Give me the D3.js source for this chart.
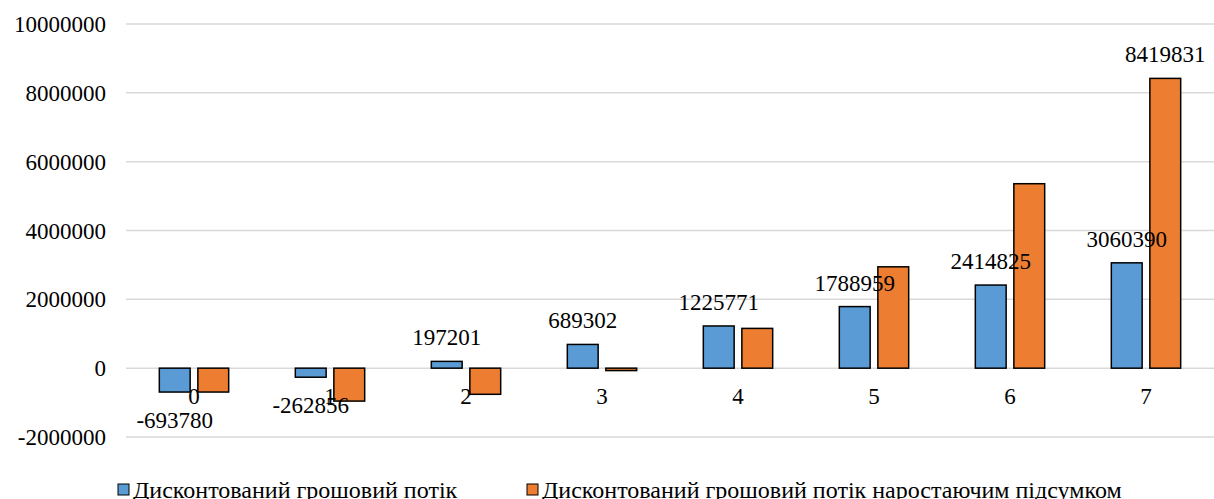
<!DOCTYPE html>
<html>
<head>
<meta charset="utf-8">
<script src="https://cdn.jsdelivr.net/npm/d3@7"></script>
<style>
  body { margin: 0; background: #fff; }
</style>
</head>
<body>
<div id="graph"></div>
<script>
var categories = ['0', '1', '2', '3', '4', '5', '6', '7']
var seriesNames = ['Дисконтований грошовий потік', 'Дисконтований грошовий потік наростаючим підсумком']
var discounted = [-693780, -262856, 197201, 689302, 1225771, 1788959, 2414825, 3060390]
var cumulative = [-693780, -956636, -759435, -70133, 1155638, 2944597, 5359422, 8419831]
var discountedLabels = ['-693780', '-262856', '197201', '689302', '1225771', '1788959', '2414825', '3060390']
var cumulativeLabels = [null, null, null, null, null, null, null, '8419831']
var yTicks = [-2000000, 0, 2000000, 4000000, 6000000, 8000000, 10000000]
var colors = ['#5b9bd5', '#ed7d31']

var width = 1214, height = 499
var fontSize = 23

var svg = d3.select('#graph').append('svg')
    .attr('width', width).attr('height', height)
    .attr('font-family', "'Liberation Serif', 'Times New Roman', Tinos, 'DejaVu Serif', serif")

var x0 = d3.scaleBand().domain(categories).range([126, 1214])
    .paddingInner(0.49).paddingOuter(0.245)
var x1 = d3.scaleBand().domain([0, 1]).range([0, x0.bandwidth()]).paddingInner(0.2)
var y = d3.scaleLinear().domain([-2000000, 10000000]).range([437, 24])

// grid
svg.append('g')
  .selectAll('line').data(yTicks).join('line')
    .attr('x1', 126).attr('x2', 1214)
    .attr('y1', d => y(d)).attr('y2', d => y(d))
    .attr('stroke', '#d9d9d9').attr('stroke-width', 1.5)

// y axis labels
svg.append('g')
  .selectAll('text').data(yTicks).join('text')
    .attr('x', 106).attr('y', d => y(d))
    .attr('dy', '0.35em')
    .attr('text-anchor', 'end')
    .style('font-size', fontSize + 'px')
    .text(d => d)

var rows = categories.map((c, i) => ({c, vals: [discounted[i], cumulative[i]], labels: [discountedLabels[i], cumulativeLabels[i]]}))

var groups = svg.append('g')
  .selectAll('g').data(rows).join('g')
    .attr('transform', d => `translate(${x0(d.c)},0)`)

groups.selectAll('rect').data(d => d.vals).join('rect')
    .attr('x', (d, i) => x1(i))
    .attr('width', x1.bandwidth())
    .attr('y', d => y(Math.max(0, d)))
    .attr('height', d => Math.abs(y(d) - y(0)))
    .attr('fill', (d, i) => colors[i])
    .attr('stroke', '#000').attr('stroke-width', 1.5)

// category labels just below zero
svg.append('g')
  .selectAll('text').data(categories).join('text')
    .attr('x', d => x0(d) + x0.bandwidth() / 2)
    .attr('y', y(0) + 28)
    .attr('dy', '0.35em')
    .attr('text-anchor', 'middle')
    .style('font-size', fontSize + 'px')
    .text(d => d)

// value labels
groups.selectAll('text.val').data(d => d.vals.map((v, i) => ({v, i, label: d.labels[i]})).filter(d => d.label))
  .join('text').attr('class', 'val')
    .attr('x', d => x1(d.i) + x1.bandwidth() / 2)
    .attr('y', d => d.v >= 0 ? y(d.v) - 24 : y(d.v) + 28)
    .attr('dy', '0.35em')
    .attr('text-anchor', 'middle')
    .style('font-size', fontSize + 'px')
    .text(d => d.label)

// legend
var legendX = [118, 527]
var leg = svg.append('g')
  .selectAll('g').data(seriesNames).join('g')
    .attr('transform', (d, i) => `translate(${legendX[i]},490)`)
leg.append('rect')
    .attr('x', 0).attr('y', -6).attr('width', 11).attr('height', 11)
    .attr('fill', (d, i) => colors[i])
    .attr('stroke', '#000').attr('stroke-width', 1)
leg.append('text')
    .attr('x', 15).attr('dy', '0.35em')
    .style('font-size', '24px')
    .text(d => d)
</script>
</body>
</html>
